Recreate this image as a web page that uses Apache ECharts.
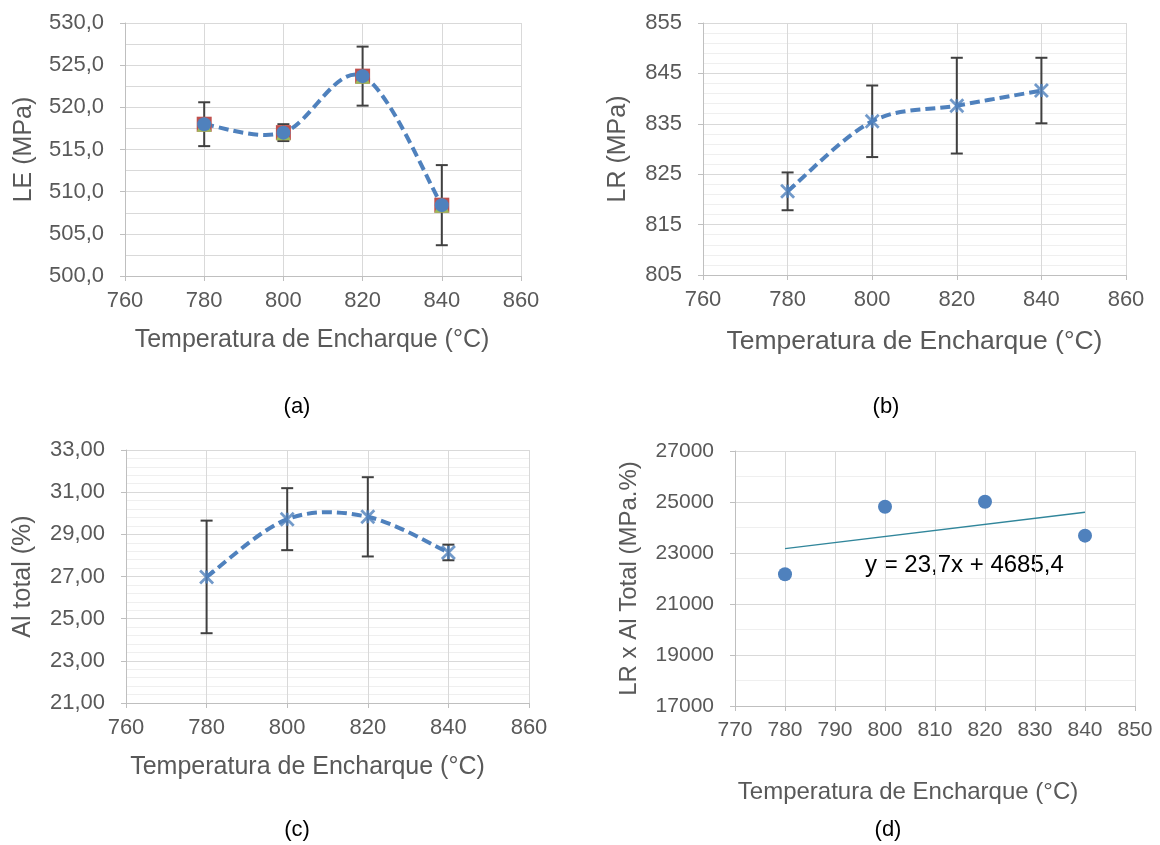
<!DOCTYPE html>
<html>
<head>
<meta charset="utf-8">
<script src="https://cdn.jsdelivr.net/npm/echarts@6/dist/echarts.min.js"></script>
<style>
html,body{margin:0;padding:0;background:#fff;}
#chart{width:1160px;height:845px;}
</style>
</head>
<body>
<div id="chart"></div>
<script>
// ---- data ----
const xTemp = [780, 800, 820, 840];
const leMean = [518.0, 517.0, 523.7, 508.4];
const leErr = [2.6, 1.0, 3.5, 4.75];
const lrMean = [821.6, 835.5, 838.6, 841.6];
const lrErr = [3.75, 7.1, 9.5, 6.5];
const alMean = [26.98, 29.72, 29.83, 28.14];
const alErr = [2.67, 1.47, 1.88, 0.37];
const lrAl = [22165, 24816, 25012, 23680];
const trendSlope = 23.7;
const trendIntercept = 4685.4;
const trendLabel = 'y = 23,7x + 4685,4';
const captions = ['(a)', '(b)', '(c)', '(d)'];
const xTitle = 'Temperatura de Encharque (°C)';
const yTitles = ['LE (MPa)', 'LR (MPa)', 'Al total (%)', 'LR x Al Total (MPa.%)'];

// ---- style ----
const FONT = 'Liberation Sans, Arial, sans-serif';
const TXT = '#595959';
const BLUE = '#4f81bd';
const GRID = '#d9d9d9';
const MINOR = '#efefef';
const AXIS = '#bfbfbf';
const ERR = '#404040';
const STAR = 'path://M0 0L10 10M10 0L0 10M5 0L5 10';

const pairs = (xs, ys) => xs.map((x, i) => [x, ys[i]]);
const errData = (xs, m, e) => xs.map((x, i) => [x, m[i] - e[i], m[i] + e[i]]);

function errRender(params, api) {
  const x = api.value(0), lo = api.value(1), hi = api.value(2);
  const p1 = api.coord([x, hi]);
  const p2 = api.coord([x, lo]);
  const w = 6;
  const st = { stroke: ERR, lineWidth: 2 };
  return {
    type: 'group',
    children: [
      { type: 'line', shape: { x1: p1[0], y1: p1[1], x2: p2[0], y2: p2[1] }, style: st },
      { type: 'line', shape: { x1: p1[0] - w, y1: p1[1], x2: p1[0] + w, y2: p1[1] }, style: st },
      { type: 'line', shape: { x1: p2[0] - w, y1: p2[1], x2: p2[0] + w, y2: p2[1] }, style: st }
    ]
  };
}

// smoothed (spline) dashed line through the series points, in pixel space
function curveRender(ys) {
  return function (params, api) {
    if (params.dataIndex !== 0) return null;
    const pts = xTemp.map((x, i) => api.coord([x, ys[i]]));
    const n = pts.length;
    let d = 'M' + pts[0][0] + ' ' + pts[0][1];
    for (let i = 0; i < n - 1; i++) {
      const p0 = pts[Math.max(i - 1, 0)], p1 = pts[i], p2 = pts[i + 1], p3 = pts[Math.min(i + 2, n - 1)];
      const c1x = p1[0] + (p2[0] - p0[0]) / 6, c1y = p1[1] + (p2[1] - p0[1]) / 6;
      const c2x = p2[0] - (p3[0] - p1[0]) / 6, c2y = p2[1] - (p3[1] - p1[1]) / 6;
      d += ' C' + c1x + ' ' + c1y + ' ' + c2x + ' ' + c2y + ' ' + p2[0] + ' ' + p2[1];
    }
    return {
      type: 'path', shape: { pathData: d },
      style: { fill: null, stroke: BLUE, lineWidth: 4, lineDash: [10, 5] }
    };
  };
}

function xAxisDef(idx, min, max, interval, fontSize, nameGap, nameSize, namePad) {
  return {
    type: 'value', gridIndex: idx, min: min, max: max, interval: interval,
    name: xTitle, nameLocation: 'middle', nameGap: nameGap,
    nameTextStyle: { fontFamily: FONT, fontSize: nameSize, color: TXT, padding: namePad || 0 },
    axisLine: { show: true, onZero: false, lineStyle: { color: AXIS, width: 1 } },
    axisTick: { show: true, length: 5, lineStyle: { color: AXIS } },
    axisLabel: { fontFamily: FONT, fontSize: fontSize, color: TXT, margin: 14 },
    splitLine: { show: true, lineStyle: { color: GRID, width: 1 } }
  };
}
function yAxisDef(idx, min, max, interval, fmt, fontSize, nameGap, nameSize, minorN, minorColor) {
  return {
    type: 'value', gridIndex: idx, min: min, max: max, interval: interval,
    name: yTitles[idx], nameLocation: 'middle', nameGap: nameGap, nameRotate: 90,
    nameTextStyle: { fontFamily: FONT, fontSize: nameSize, color: TXT },
    axisLine: { show: true, lineStyle: { color: AXIS, width: 1 } },
    axisTick: { show: true, length: 5, lineStyle: { color: AXIS } },
    axisLabel: { fontFamily: FONT, fontSize: fontSize, color: TXT, margin: 21, formatter: fmt },
    splitLine: { show: true, lineStyle: { color: GRID, width: 1 } },
    minorTick: { show: false, splitNumber: minorN },
    minorSplitLine: { show: true, lineStyle: { color: minorColor, width: 1 } }
  };
}
const comma = d => v => v.toFixed(d).replace('.', ',');
const captionText = (t, x, y) => ({
  type: 'text', x: x, y: y,
  style: { text: t, fontFamily: FONT, fontSize: 22, fill: '#000', align: 'center', verticalAlign: 'middle' }
});
const starStyle = { color: 'rgba(0,0,0,0)', borderColor: BLUE, borderWidth: 2.8 };

const option = {
  backgroundColor: '#fff',
  animation: false,
  grid: [
    { left: 125, top: 23, width: 396, height: 253 },
    { left: 703, top: 23, width: 423, height: 252 },
    { left: 126, top: 450, width: 403, height: 253 },
    { left: 735, top: 451, width: 400, height: 255 }
  ],
  xAxis: [
    xAxisDef(0, 760, 860, 20, 22, 52, 25, [0, 22, 0, 0]),
    xAxisDef(1, 760, 860, 20, 22, 53, 26.5),
    xAxisDef(2, 760, 860, 20, 22, 52, 25, [0, 40, 0, 0]),
    xAxisDef(3, 770, 850, 10, 21, 74, 24, [0, 54, 0, 0])
  ],
  yAxis: [
    yAxisDef(0, 500, 530, 5, comma(1), 22, 88, 25, 2, GRID),
    yAxisDef(1, 805, 855, 10, v => String(v), 22, 72, 25, 5, MINOR),
    yAxisDef(2, 21, 33, 2, comma(2), 22, 90, 25, 5, MINOR),
    yAxisDef(3, 17000, 27000, 2000, v => String(v), 21, 94, 24, 2, MINOR)
  ],
  series: [
    // (a)
    { type: 'custom', xAxisIndex: 0, yAxisIndex: 0, renderItem: errRender,
      encode: { x: 0, y: [1, 2] }, data: errData(xTemp, leMean, leErr), z: 2 },
    { type: 'custom', xAxisIndex: 0, yAxisIndex: 0, renderItem: curveRender(leMean),
      encode: { x: 0, y: 1 }, data: pairs(xTemp, leMean), z: 3 },
    { type: 'scatter', xAxisIndex: 0, yAxisIndex: 0, symbol: 'rect', symbolSize: 15,
      itemStyle: { color: '#c0504d', opacity: 1 }, data: pairs(xTemp, leMean), z: 4 },
    { type: 'scatter', xAxisIndex: 0, yAxisIndex: 0, symbol: 'triangle', symbolSize: 15,
      itemStyle: { color: '#9bbb59', opacity: 1 }, data: pairs(xTemp, leMean), z: 5 },
    { type: 'scatter', xAxisIndex: 0, yAxisIndex: 0, symbol: 'circle', symbolSize: 14,
      itemStyle: { color: BLUE, opacity: 1 }, data: pairs(xTemp, leMean), z: 6 },
    // (b)
    { type: 'custom', xAxisIndex: 1, yAxisIndex: 1, renderItem: errRender,
      encode: { x: 0, y: [1, 2] }, data: errData(xTemp, lrMean, lrErr), z: 2 },
    { type: 'custom', xAxisIndex: 1, yAxisIndex: 1, renderItem: curveRender(lrMean),
      encode: { x: 0, y: 1 }, data: pairs(xTemp, lrMean), z: 3 },
    { type: 'scatter', xAxisIndex: 1, yAxisIndex: 1, symbol: STAR, symbolSize: 13,
      itemStyle: starStyle, data: pairs(xTemp, lrMean), z: 6 },
    // (c)
    { type: 'custom', xAxisIndex: 2, yAxisIndex: 2, renderItem: errRender,
      encode: { x: 0, y: [1, 2] }, data: errData(xTemp, alMean, alErr), z: 2 },
    { type: 'custom', xAxisIndex: 2, yAxisIndex: 2, renderItem: curveRender(alMean),
      encode: { x: 0, y: 1 }, data: pairs(xTemp, alMean), z: 3 },
    { type: 'scatter', xAxisIndex: 2, yAxisIndex: 2, symbol: STAR, symbolSize: 13,
      itemStyle: starStyle, data: pairs(xTemp, alMean), z: 6 },
    // (d)
    { type: 'line', xAxisIndex: 3, yAxisIndex: 3, symbol: 'none', silent: true,
      lineStyle: { color: '#31869b', width: 1.5 },
      data: [xTemp[0], xTemp[xTemp.length - 1]].map(x => [x, trendSlope * x + trendIntercept]), z: 3 },
    { type: 'scatter', xAxisIndex: 3, yAxisIndex: 3, symbol: 'circle', symbolSize: 14,
      itemStyle: { color: BLUE, opacity: 1 }, data: pairs(xTemp, lrAl), z: 5 }
  ],
  graphic: [
    { type: 'text', left: 865, top: 553, style: { text: trendLabel, fontFamily: FONT, fontSize: 24, fill: '#000' } },
    captionText(captions[0], 297, 407),
    captionText(captions[1], 886, 407),
    captionText(captions[2], 297, 830),
    captionText(captions[3], 888, 830)
  ]
};

const chart = echarts.init(document.getElementById('chart'), null, { renderer: 'canvas' });
chart.setOption(option);
</script>
</body>
</html>
